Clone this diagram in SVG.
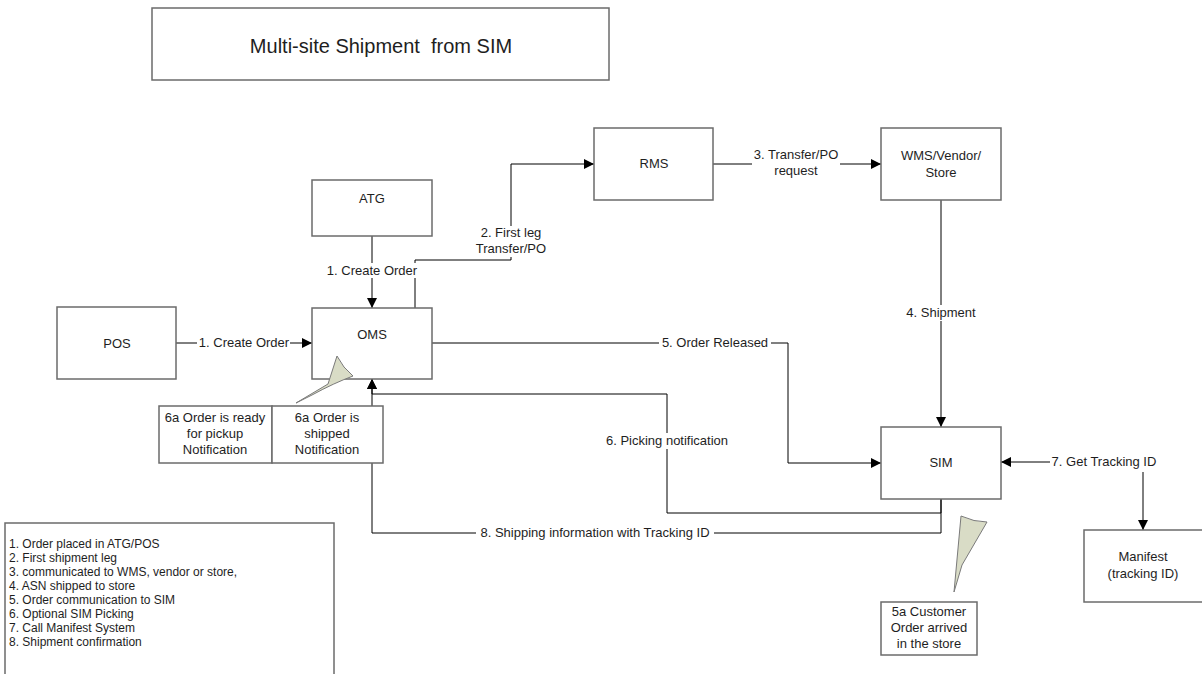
<svg xmlns="http://www.w3.org/2000/svg" width="1202" height="674" viewBox="0 0 1202 674">
<style>
.box{fill:#fff;stroke:#6b6b6b;stroke-width:1.5}
.t{font-family:"Liberation Sans",Arial,sans-serif;font-size:13px;fill:#1e1e1e;text-anchor:middle}
.lg{font-family:"Liberation Sans",Arial,sans-serif;font-size:12px;fill:#1e1e1e}
.c{fill:none;stroke:#000;stroke-width:1}
.bg{fill:#fff}
.callout{fill:#d9dcc6;stroke:#7a7a7a;stroke-width:1}
</style>
<defs>
<marker id="ah" viewBox="0 0 10 10" refX="10" refY="5" markerWidth="10" markerHeight="10" markerUnits="userSpaceOnUse" orient="auto-start-reverse">
<path d="M0,0 L10,5 L0,10 Z" fill="#000"/>
</marker>
</defs>
<rect width="1202" height="674" fill="#fff"/>
<g id="title">
<rect class="box" x="152" y="8" width="457" height="72"/>
<text class="t" x="381" y="53" style="font-size:20px;white-space:pre" xml:space="preserve">Multi-site Shipment  from SIM</text>
</g>
<g id="connectors">
<path class="c" d="M176,343 H312" marker-end="url(#ah)"/>
<path class="c" d="M372,236 V308" marker-end="url(#ah)"/>
<path class="c" d="M415,308 V260 H511 V164 H594" marker-end="url(#ah)"/>
<path class="c" d="M713,164 H881" marker-end="url(#ah)"/>
<path class="c" d="M941,200 V427" marker-end="url(#ah)"/>
<path class="c" d="M432,343 H788 V463 H881" marker-end="url(#ah)"/>
<path class="c" d="M941,499 V513 H667 V394 H372 V379" marker-end="url(#ah)"/>
<path class="c" d="M941,499 V533 H372 V379" marker-end="url(#ah)"/>
<path class="c" d="M1001,462 H1143 V530" marker-start="url(#ah)" marker-end="url(#ah)"/>
<rect class="bg" x="197" y="335" width="93" height="16"/>
<text class="t" x="244" y="347">1. Create Order</text>
<rect class="bg" x="326" y="263" width="92" height="15"/>
<text class="t" x="372" y="275">1. Create Order</text>
<rect class="bg" x="472" y="226" width="78" height="31"/>
<text class="t" x="511" y="237">2. First leg</text>
<text class="t" x="511" y="253">Transfer/PO</text>
<rect class="bg" x="752" y="148" width="88" height="31"/>
<text class="t" x="796" y="159">3. Transfer/PO</text>
<text class="t" x="796" y="175">request</text>
<rect class="bg" x="905" y="305" width="72" height="16"/>
<text class="t" x="941" y="317">4. Shipment</text>
<rect class="bg" x="659" y="335" width="112" height="16"/>
<text class="t" x="715" y="347">5. Order Released</text>
<rect class="bg" x="603" y="433" width="128" height="16"/>
<text class="t" x="667" y="445">6. Picking notification</text>
<rect class="bg" x="476" y="525" width="238" height="16"/>
<text class="t" x="595" y="537">8. Shipping information with Tracking ID</text>
<rect class="bg" x="1050" y="454" width="108" height="18"/>
<text class="t" x="1104" y="466">7. Get Tracking ID</text>
</g>
<g id="atg">
<rect class="box" x="312" y="180" width="120" height="56"/>
<text class="t" x="372" y="203">ATG</text>
</g>
<g id="oms">
<rect class="box" x="312" y="308" width="120" height="71"/>
<text class="t" x="372" y="339">OMS</text>
</g>
<g id="pos">
<rect class="box" x="57" y="307" width="119" height="72"/>
<text class="t" x="117" y="348">POS</text>
</g>
<g id="rms">
<rect class="box" x="594" y="128" width="119" height="72"/>
<text class="t" x="654" y="168">RMS</text>
</g>
<g id="wms">
<rect class="box" x="881" y="128" width="120" height="72"/>
<text class="t" x="941" y="160">WMS/Vendor/</text>
<text class="t" x="941" y="177">Store</text>
</g>
<g id="sim">
<rect class="box" x="881" y="427" width="120" height="72"/>
<text class="t" x="941" y="467">SIM</text>
</g>
<g id="manifest">
<rect class="box" x="1084" y="530" width="120" height="72"/>
<text class="t" x="1143" y="561">Manifest</text>
<text class="t" x="1143" y="578">(tracking ID)</text>
</g>
<g id="note6a">
<path class="callout" d="M296,403 L328,384 L337,356 Q343,368 353,376 Q334,383 312,395 Z"/>
<rect class="box" x="159" y="406" width="113" height="57"/>
<rect class="box" x="272" y="406" width="111" height="57"/>
<text class="t" x="215" y="422">6a Order is ready</text>
<text class="t" x="215" y="438">for pickup</text>
<text class="t" x="215" y="454">Notification</text>
<text class="t" x="327" y="422">6a Order is</text>
<text class="t" x="327" y="438">shipped</text>
<text class="t" x="327" y="454">Notification</text>
</g>
<g id="note5a">
<path class="callout" d="M954,592 L961,516 Q974,522 987,522 L962,565 Z"/>
<rect class="box" x="881" y="602" width="96" height="53"/>
<text class="t" x="929" y="616">5a Customer</text>
<text class="t" x="929" y="632">Order arrived</text>
<text class="t" x="929" y="648">in the store</text>
</g>
<g id="legend">
<rect class="box" x="5" y="523" width="329" height="160"/>
<text class="lg" x="9" y="548">1. Order placed in ATG/POS</text>
<text class="lg" x="9" y="562">2. First shipment leg</text>
<text class="lg" x="9" y="576">3. communicated to WMS, vendor or store,</text>
<text class="lg" x="9" y="590">4. ASN shipped to store</text>
<text class="lg" x="9" y="604">5. Order communication to SIM</text>
<text class="lg" x="9" y="618">6. Optional SIM Picking</text>
<text class="lg" x="9" y="632">7. Call Manifest System</text>
<text class="lg" x="9" y="646">8. Shipment confirmation</text>
</g>
</svg>
